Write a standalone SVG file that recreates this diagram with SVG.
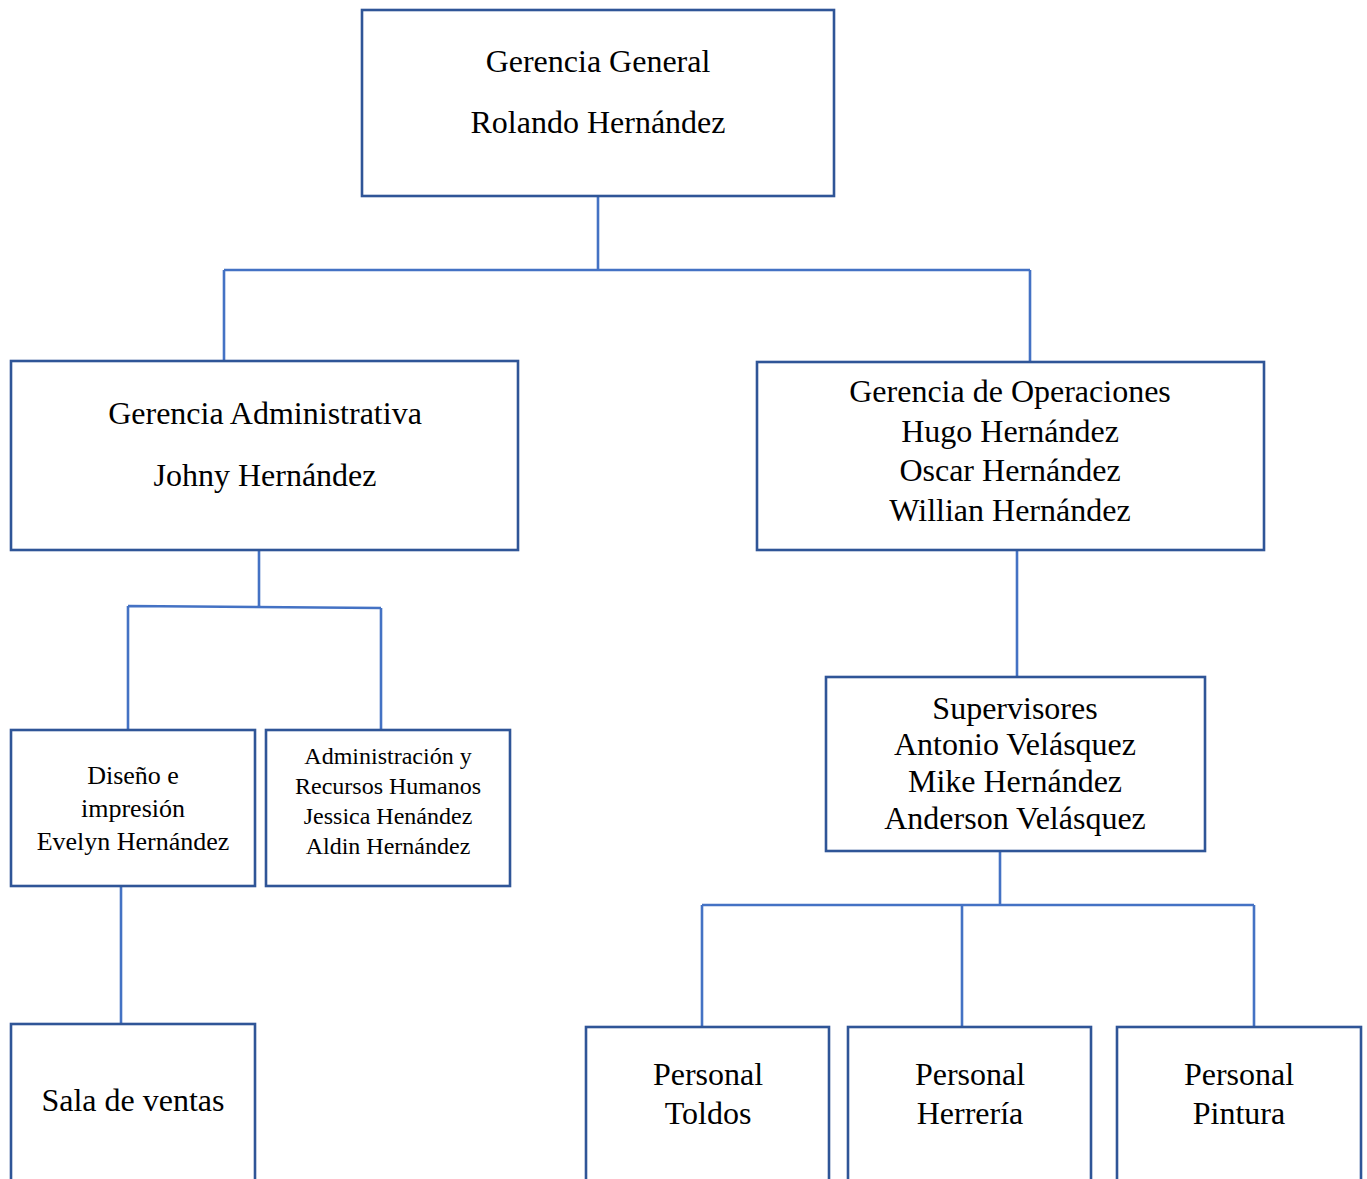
<svg xmlns="http://www.w3.org/2000/svg" width="1367" height="1179" viewBox="0 0 1367 1179">
<style>
.box{fill:#fff;stroke:#2F5597;stroke-width:2.6}
.c{fill:none;stroke:#4472C4;stroke-width:2.6}
text{font-family:"Liberation Serif","Times New Roman",serif;fill:#000;text-anchor:middle}
.t32{font-size:32px}
.t26{font-size:26px}
.t24{font-size:24px}
</style>
<rect width="1367" height="1179" fill="#fff"/>
<g id="connectors">
<path class="c" d="M598 197V270M224 270H1030M224 270V361M1030 270V362"/>
<path class="c" d="M259 550V607M128 606L381 608M128 606V730M381 608V730"/>
<path class="c" d="M121 886V1024"/>
<path class="c" d="M1017 550V677"/>
<path class="c" d="M1000 851V905M702 905H1254M702 905V1027M962 905V1027M1254 905V1027"/>
</g>
<g id="gerencia-general">
<rect class="box" x="362" y="10" width="472" height="186"/>
<text class="t32" x="598" y="72">Gerencia General</text>
<text class="t32" x="598" y="133">Rolando Hernández</text>
</g>
<g id="gerencia-administrativa">
<rect class="box" x="11" y="361" width="507" height="189"/>
<text class="t32" x="265" y="424">Gerencia Administrativa</text>
<text class="t32" x="265" y="486">Johny Hernández</text>
</g>
<g id="gerencia-operaciones">
<rect class="box" x="757" y="362" width="507" height="188"/>
<text class="t32" x="1010" y="402">Gerencia de Operaciones</text>
<text class="t32" x="1010" y="442">Hugo Hernández</text>
<text class="t32" x="1010" y="481">Oscar Hernández</text>
<text class="t32" x="1010" y="521">Willian Hernández</text>
</g>
<g id="diseno">
<rect class="box" x="11" y="730" width="244" height="156"/>
<text class="t26" x="133" y="784">Diseño e</text>
<text class="t26" x="133" y="817">impresión</text>
<text class="t26" x="133" y="850">Evelyn Hernández</text>
</g>
<g id="administracion">
<rect class="box" x="266" y="730" width="244" height="156"/>
<text class="t24" x="388" y="764">Administración y</text>
<text class="t24" x="388" y="794">Recursos Humanos</text>
<text class="t24" x="388" y="824">Jessica Henández</text>
<text class="t24" x="388" y="854">Aldin Hernández</text>
</g>
<g id="supervisores">
<rect class="box" x="826" y="677" width="379" height="174"/>
<text class="t32" x="1015" y="719">Supervisores</text>
<text class="t32" x="1015" y="755">Antonio Velásquez</text>
<text class="t32" x="1015" y="792">Mike Hernández</text>
<text class="t32" x="1015" y="829">Anderson Velásquez</text>
</g>
<g id="sala-ventas">
<rect class="box" x="11" y="1024" width="244" height="170"/>
<text class="t32" x="133" y="1111">Sala de ventas</text>
</g>
<g id="personal-toldos">
<rect class="box" x="586" y="1027" width="243" height="170"/>
<text class="t32" x="708" y="1085">Personal</text>
<text class="t32" x="708" y="1124">Toldos</text>
</g>
<g id="personal-herreria">
<rect class="box" x="848" y="1027" width="243" height="170"/>
<text class="t32" x="970" y="1085">Personal</text>
<text class="t32" x="970" y="1124">Herrería</text>
</g>
<g id="personal-pintura">
<rect class="box" x="1117" y="1027" width="244" height="170"/>
<text class="t32" x="1239" y="1085">Personal</text>
<text class="t32" x="1239" y="1124">Pintura</text>
</g>
</svg>
